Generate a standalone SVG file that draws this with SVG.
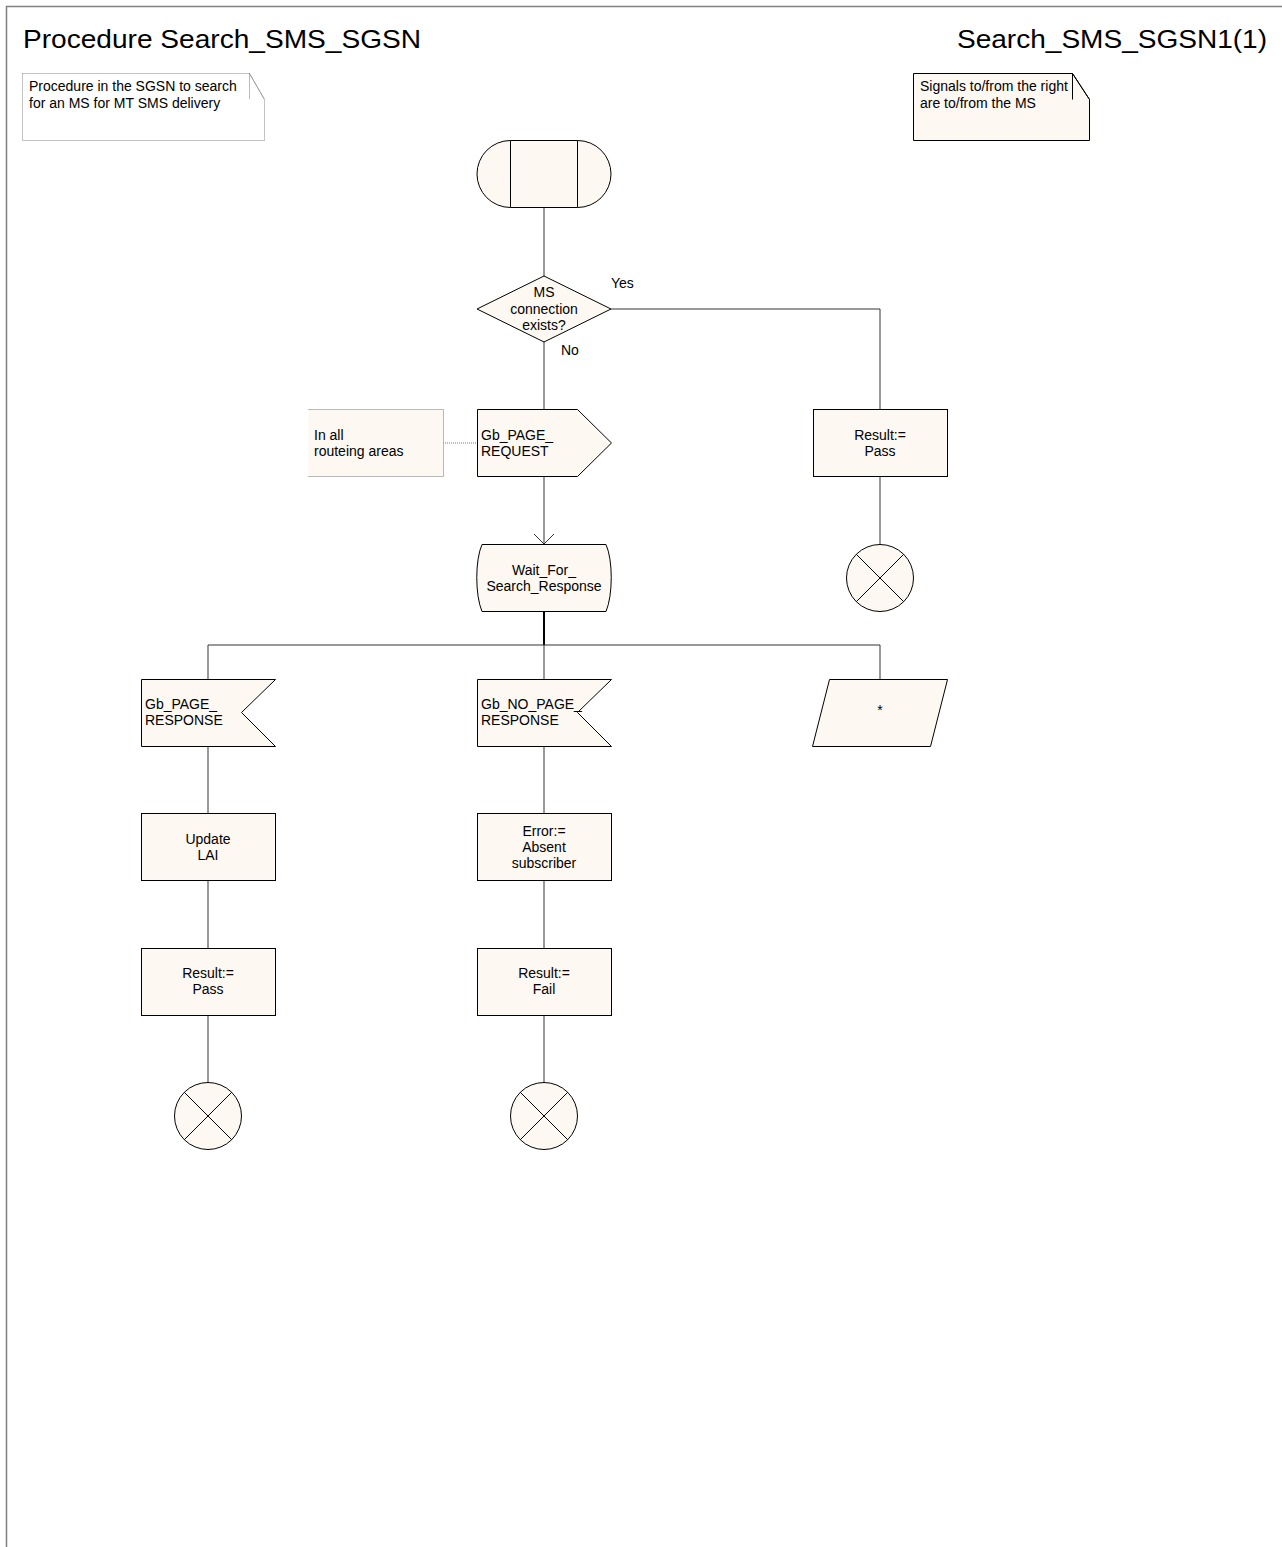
<svg xmlns="http://www.w3.org/2000/svg" width="1282" height="1547" viewBox="0 0 1282 1547">
<style>
text{font-family:"Liberation Sans",Arial,sans-serif;font-size:14px;fill:#000}
.t{font-size:26px}
.c{text-anchor:middle}
.n{fill:#fdf8f2;stroke:#000;stroke-width:1}
.ln{fill:none;stroke:#333;stroke-width:1}
.dot{fill:none;stroke:#777;stroke-width:1;stroke-dasharray:1 1}
</style>
<rect x="0" y="0" width="1282" height="1547" fill="#fff"/>
<g id="frame"><path d="M6.5,1547 V6.5 H1282" fill="none" stroke="#808080" stroke-width="1.5"/></g>
<g id="titles">
<text class="t" x="23" y="48" textLength="398" lengthAdjust="spacingAndGlyphs">Procedure Search_SMS_SGSN</text>
<text class="t" x="957" y="48" textLength="310" lengthAdjust="spacingAndGlyphs">Search_SMS_SGSN1(1)</text>
</g>
<g id="note1">
<path d="M22.5,73.5 H249.5 L264.5,99.5 V140.5 H22.5 Z" fill="#fff" stroke="#888" stroke-dasharray="1 1"/>
<path d="M249.5,73.5 V99.5 M249.5,73.5 L264.5,99.5" class="dot"/>
<text x="29" y="91">Procedure in the SGSN to search</text>
<text x="29" y="108">for an MS for MT SMS delivery</text>
</g>
<g id="note2">
<path d="M913.5,73.5 H1072.5 L1089.5,99.5 V140.5 H913.5 Z" class="n"/>
<path d="M1072.5,73.5 V99.5 M1072.5,73.5 L1089.5,99.5" fill="none" stroke="#000"/>
<text x="920" y="91">Signals to/from the right</text>
<text x="920" y="108">are to/from the MS</text>
</g>
<g id="connectors">
<path class="ln" d="M544,208 V276"/>
<path class="ln" d="M611,309 H880 V409"/>
<path class="ln" d="M544,342 V409"/>
<path class="ln" d="M544,477 V544"/>
<path class="ln" d="M534,534 L544,544 L554,534"/>
<path d="M544,611 V645" stroke="#000" stroke-width="2" fill="none"/>
<path class="ln" d="M208,679 V645 H880 V679"/>
<path class="ln" d="M544,645 V679"/>
<path class="ln" d="M880,477 V544"/>
<path class="ln" d="M208,746 V813 M208,880 V948 M208,1015 V1082"/>
<path class="ln" d="M544,746 V813 M544,880 V948 M544,1015 V1082"/>
<path class="dot" d="M443,443 H477"/>
</g>
<g id="start">
<path class="n" d="M510.5,140.5 H577.5 A33.5,33.5 0 0 1 577.5,207.5 H510.5 A33.5,33.5 0 0 1 510.5,140.5 Z"/>
<path d="M510.5,140.5 V207.5 M577.5,140.5 V207.5" stroke="#000" fill="none"/>
</g>
<g id="decision">
<path class="n" d="M544,276 L611,309 L544,342 L477,309 Z"/>
<text class="c" x="544" y="297">MS</text>
<text class="c" x="544" y="314">connection</text>
<text class="c" x="544" y="330">exists?</text>
<text x="611" y="288">Yes</text>
<text x="561" y="355">No</text>
</g>
<g id="comment">
<path d="M308.5,409.5 H443.5 V476.5 H308.5 Z" fill="#fdf8f2" stroke="none"/>
<path class="dot" d="M308.5,409.5 H443.5 V476.5 H308.5"/>
<text x="314" y="440">In all</text>
<text x="314" y="456">routeing areas</text>
</g>
<g id="page_request">
<path class="n" d="M477.5,409.5 H577.5 L611.5,443 L577.5,476.5 H477.5 Z"/>
<text x="481" y="440">Gb_PAGE_</text>
<text x="481" y="456">REQUEST</text>
</g>
<g id="pass_right">
<rect class="n" x="813.5" y="409.5" width="134" height="67"/>
<text class="c" x="880" y="440">Result:=</text>
<text class="c" x="880" y="456">Pass</text>
</g>
<g id="end_right">
<circle class="n" cx="880" cy="578" r="33.5"/>
<path d="M856.3,554.3 L903.7,601.7 M903.7,554.3 L856.3,601.7" stroke="#000" fill="none"/>
</g>
<g id="wait_state">
<path class="n" d="M482,544.5 H606 C613,560 613,595 606,611.5 H482 C475,595 475,560 482,544.5 Z"/>
<text class="c" x="544" y="575">Wait_For_</text>
<text class="c" x="544" y="591">Search_Response</text>
</g>
<g id="page_response">
<path class="n" d="M141.5,679.5 H275.5 L241.5,712.5 L275.5,746.5 H141.5 Z"/>
<text x="145" y="709">Gb_PAGE_</text>
<text x="145" y="725">RESPONSE</text>
</g>
<g id="no_page_response">
<path class="n" d="M477.5,679.5 H611.5 L577.5,712.5 L611.5,746.5 H477.5 Z"/>
<text x="481" y="709">Gb_NO_PAGE_</text>
<text x="481" y="725">RESPONSE</text>
</g>
<g id="any_input">
<path class="n" d="M829.5,679.5 H947.5 L930.5,746.5 H812.5 Z"/>
<text class="c" x="880" y="715">*</text>
</g>
<g id="update_lai">
<rect class="n" x="141.5" y="813.5" width="134" height="67"/>
<text class="c" x="208" y="844">Update</text>
<text class="c" x="208" y="860">LAI</text>
</g>
<g id="error_absent">
<rect class="n" x="477.5" y="813.5" width="134" height="67"/>
<text class="c" x="544" y="836">Error:=</text>
<text class="c" x="544" y="852">Absent</text>
<text class="c" x="544" y="868">subscriber</text>
</g>
<g id="pass_left">
<rect class="n" x="141.5" y="948.5" width="134" height="67"/>
<text class="c" x="208" y="978">Result:=</text>
<text class="c" x="208" y="994">Pass</text>
</g>
<g id="fail_mid">
<rect class="n" x="477.5" y="948.5" width="134" height="67"/>
<text class="c" x="544" y="978">Result:=</text>
<text class="c" x="544" y="994">Fail</text>
</g>
<g id="end_left">
<circle class="n" cx="208" cy="1116" r="33.5"/>
<path d="M184.3,1092.3 L231.7,1139.7 M231.7,1092.3 L184.3,1139.7" stroke="#000" fill="none"/>
</g>
<g id="end_mid">
<circle class="n" cx="544" cy="1116" r="33.5"/>
<path d="M520.3,1092.3 L567.7,1139.7 M567.7,1092.3 L520.3,1139.7" stroke="#000" fill="none"/>
</g>
</svg>
